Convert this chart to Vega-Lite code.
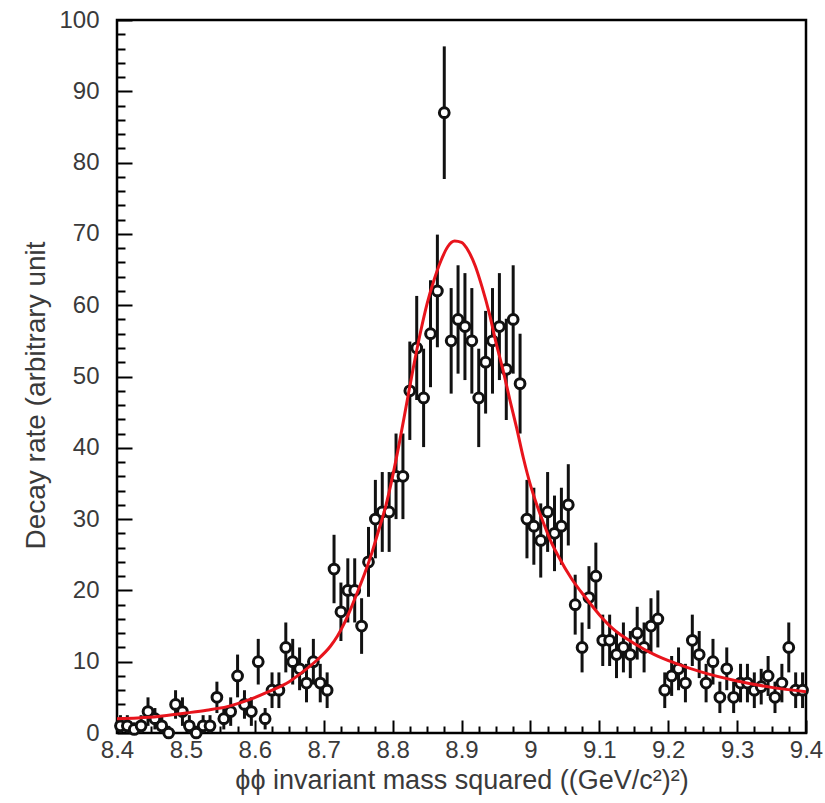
{
  "$schema": "https://vega.github.io/schema/vega-lite/v6.json",
  "width": 689,
  "height": 713,
  "autosize": {"type": "none"},
  "padding": {"left": 117, "top": 20, "right": 19, "bottom": 70},
  "background": "white",
  "config": {
    "view": {"stroke": "black", "strokeWidth": 2.5},
    "font": "Liberation Sans",
    "axis": {"grid": false, "domain": false, "labelFont": "Liberation Sans", "titleFont": "Liberation Sans", "labelColor": "#3a3a3a", "titleColor": "#3a3a3a", "tickColor": "black", "labelFontSize": 24, "titleFontSize": 27, "titleFontWeight": "normal"}
  },
  "datasets": {
    "pts": [
      {"x": 8.405, "y": 1, "lo": 0, "hi": 2.5},
      {"x": 8.415, "y": 1, "lo": 0, "hi": 2.5},
      {"x": 8.425, "y": 0.5, "lo": 0, "hi": 1.5},
      {"x": 8.435, "y": 1, "lo": 0, "hi": 2.5},
      {"x": 8.445, "y": 3, "lo": 1, "hi": 5},
      {"x": 8.455, "y": 2, "lo": 0.5, "hi": 3.5},
      {"x": 8.465, "y": 1, "lo": 0, "hi": 2.5},
      {"x": 8.475, "y": 0, "lo": 0, "hi": 1},
      {"x": 8.485, "y": 4, "lo": 2, "hi": 6},
      {"x": 8.495, "y": 3, "lo": 1, "hi": 5},
      {"x": 8.505, "y": 1, "lo": 0, "hi": 2.5},
      {"x": 8.515, "y": 0, "lo": 0, "hi": 1},
      {"x": 8.525, "y": 1, "lo": 0, "hi": 2.5},
      {"x": 8.535, "y": 1, "lo": 0, "hi": 2.5},
      {"x": 8.545, "y": 5, "lo": 2.8, "hi": 7.2},
      {"x": 8.555, "y": 2, "lo": 0.5, "hi": 3.5},
      {"x": 8.565, "y": 3, "lo": 1, "hi": 5},
      {"x": 8.575, "y": 8, "lo": 5, "hi": 11},
      {"x": 8.585, "y": 4, "lo": 2, "hi": 6},
      {"x": 8.595, "y": 3, "lo": 1, "hi": 5},
      {"x": 8.605, "y": 10, "lo": 6.8, "hi": 13.2},
      {"x": 8.615, "y": 2, "lo": 0.5, "hi": 3.5},
      {"x": 8.625, "y": 6, "lo": 3.5, "hi": 8.5},
      {"x": 8.635, "y": 6, "lo": 3.5, "hi": 8.5},
      {"x": 8.645, "y": 12, "lo": 8.5, "hi": 15.5},
      {"x": 8.655, "y": 10, "lo": 6.8, "hi": 13.2},
      {"x": 8.665, "y": 9, "lo": 6, "hi": 12},
      {"x": 8.675, "y": 7, "lo": 4.3, "hi": 9.7},
      {"x": 8.685, "y": 10, "lo": 6.8, "hi": 13.2},
      {"x": 8.695, "y": 7, "lo": 4.3, "hi": 9.7},
      {"x": 8.705, "y": 6, "lo": 3.5, "hi": 8.5},
      {"x": 8.715, "y": 23, "lo": 18.2, "hi": 27.8},
      {"x": 8.725, "y": 17, "lo": 12.9, "hi": 21.1},
      {"x": 8.735, "y": 20, "lo": 15.5, "hi": 24.5},
      {"x": 8.745, "y": 20, "lo": 15.5, "hi": 24.5},
      {"x": 8.755, "y": 15, "lo": 11.1, "hi": 18.9},
      {"x": 8.765, "y": 24, "lo": 19.1, "hi": 28.9},
      {"x": 8.775, "y": 30, "lo": 24.5, "hi": 35.5},
      {"x": 8.785, "y": 31, "lo": 25.4, "hi": 36.6},
      {"x": 8.795, "y": 31, "lo": 25.4, "hi": 36.6},
      {"x": 8.805, "y": 36, "lo": 30, "hi": 42},
      {"x": 8.815, "y": 36, "lo": 30, "hi": 42},
      {"x": 8.825, "y": 48, "lo": 41.1, "hi": 54.9},
      {"x": 8.835, "y": 54, "lo": 46.7, "hi": 61.3},
      {"x": 8.845, "y": 47, "lo": 40.1, "hi": 53.9},
      {"x": 8.855, "y": 56, "lo": 48.5, "hi": 63.5},
      {"x": 8.865, "y": 62, "lo": 54.1, "hi": 69.9},
      {"x": 8.875, "y": 87, "lo": 77.7, "hi": 96.3},
      {"x": 8.885, "y": 55, "lo": 47.6, "hi": 62.4},
      {"x": 8.895, "y": 58, "lo": 50.4, "hi": 65.6},
      {"x": 8.905, "y": 57, "lo": 49.5, "hi": 64.5},
      {"x": 8.915, "y": 55, "lo": 47.6, "hi": 62.4},
      {"x": 8.925, "y": 47, "lo": 40.1, "hi": 53.9},
      {"x": 8.935, "y": 52, "lo": 44.8, "hi": 59.2},
      {"x": 8.945, "y": 55, "lo": 47.6, "hi": 62.4},
      {"x": 8.955, "y": 57, "lo": 49.5, "hi": 64.5},
      {"x": 8.965, "y": 51, "lo": 43.9, "hi": 58.1},
      {"x": 8.975, "y": 58, "lo": 50.4, "hi": 65.6},
      {"x": 8.985, "y": 49, "lo": 42, "hi": 56},
      {"x": 8.995, "y": 30, "lo": 24.5, "hi": 35.5},
      {"x": 9.005, "y": 29, "lo": 23.6, "hi": 34.4},
      {"x": 9.015, "y": 27, "lo": 21.8, "hi": 32.2},
      {"x": 9.025, "y": 31, "lo": 25.4, "hi": 36.6},
      {"x": 9.035, "y": 28, "lo": 22.7, "hi": 33.3},
      {"x": 9.045, "y": 29, "lo": 23.6, "hi": 34.4},
      {"x": 9.055, "y": 32, "lo": 26.3, "hi": 37.7},
      {"x": 9.065, "y": 18, "lo": 13.8, "hi": 22.2},
      {"x": 9.075, "y": 12, "lo": 8.5, "hi": 15.5},
      {"x": 9.085, "y": 19, "lo": 14.6, "hi": 23.4},
      {"x": 9.095, "y": 22, "lo": 17.3, "hi": 26.7},
      {"x": 9.105, "y": 13, "lo": 9.4, "hi": 16.6},
      {"x": 9.115, "y": 13, "lo": 9.4, "hi": 16.6},
      {"x": 9.125, "y": 11, "lo": 7.7, "hi": 14.3},
      {"x": 9.135, "y": 12, "lo": 8.5, "hi": 15.5},
      {"x": 9.145, "y": 11, "lo": 7.7, "hi": 14.3},
      {"x": 9.155, "y": 14, "lo": 10.3, "hi": 17.7},
      {"x": 9.165, "y": 12, "lo": 8.5, "hi": 15.5},
      {"x": 9.175, "y": 15, "lo": 11.1, "hi": 18.9},
      {"x": 9.185, "y": 16, "lo": 12, "hi": 20},
      {"x": 9.195, "y": 6, "lo": 3.5, "hi": 8.5},
      {"x": 9.205, "y": 8, "lo": 5.2, "hi": 10.8},
      {"x": 9.215, "y": 9, "lo": 6, "hi": 12},
      {"x": 9.225, "y": 7, "lo": 4.3, "hi": 9.7},
      {"x": 9.235, "y": 13, "lo": 9.4, "hi": 16.6},
      {"x": 9.245, "y": 11, "lo": 7.7, "hi": 14.3},
      {"x": 9.255, "y": 7, "lo": 4.3, "hi": 9.7},
      {"x": 9.265, "y": 10, "lo": 6.8, "hi": 13.2},
      {"x": 9.275, "y": 5, "lo": 2.8, "hi": 7.2},
      {"x": 9.285, "y": 9, "lo": 6, "hi": 12},
      {"x": 9.295, "y": 5, "lo": 2.8, "hi": 7.2},
      {"x": 9.305, "y": 7, "lo": 4.3, "hi": 9.7},
      {"x": 9.315, "y": 7, "lo": 4.3, "hi": 9.7},
      {"x": 9.325, "y": 6, "lo": 3.5, "hi": 8.5},
      {"x": 9.335, "y": 6.5, "lo": 4, "hi": 9},
      {"x": 9.345, "y": 8, "lo": 5.2, "hi": 10.8},
      {"x": 9.355, "y": 5, "lo": 2.8, "hi": 7.2},
      {"x": 9.365, "y": 7, "lo": 4.3, "hi": 9.7},
      {"x": 9.375, "y": 12, "lo": 8.5, "hi": 15.5},
      {"x": 9.385, "y": 6, "lo": 3.5, "hi": 8.5},
      {"x": 9.395, "y": 6, "lo": 3.5, "hi": 8.5}
    ],
    "curve": [
      {"x": 8.40, "y": 2.0}, {"x": 8.43, "y": 2.1}, {"x": 8.46, "y": 2.3}, {"x": 8.50, "y": 2.8},
      {"x": 8.53, "y": 3.2}, {"x": 8.56, "y": 3.7}, {"x": 8.59, "y": 4.6}, {"x": 8.62, "y": 5.8},
      {"x": 8.65, "y": 7.2}, {"x": 8.67, "y": 8.6}, {"x": 8.69, "y": 10.2}, {"x": 8.71, "y": 12.2},
      {"x": 8.72, "y": 13.6}, {"x": 8.73, "y": 15.4}, {"x": 8.74, "y": 17.6}, {"x": 8.75, "y": 20.0},
      {"x": 8.76, "y": 22.5}, {"x": 8.77, "y": 25.3}, {"x": 8.78, "y": 28.5}, {"x": 8.79, "y": 31.8},
      {"x": 8.80, "y": 36.0}, {"x": 8.81, "y": 40.8}, {"x": 8.82, "y": 46.0}, {"x": 8.83, "y": 51.2},
      {"x": 8.84, "y": 56.0}, {"x": 8.85, "y": 60.2}, {"x": 8.86, "y": 63.5}, {"x": 8.87, "y": 66.2},
      {"x": 8.88, "y": 68.2}, {"x": 8.89, "y": 69.0}, {"x": 8.90, "y": 68.8}, {"x": 8.91, "y": 67.6},
      {"x": 8.92, "y": 65.5}, {"x": 8.93, "y": 62.5}, {"x": 8.94, "y": 59.0}, {"x": 8.95, "y": 54.8},
      {"x": 8.96, "y": 51.0}, {"x": 8.97, "y": 46.8}, {"x": 8.98, "y": 42.8}, {"x": 8.99, "y": 38.5},
      {"x": 9.00, "y": 34.8}, {"x": 9.01, "y": 31.8}, {"x": 9.02, "y": 29.2}, {"x": 9.03, "y": 26.8},
      {"x": 9.04, "y": 24.9}, {"x": 9.06, "y": 21.6}, {"x": 9.08, "y": 19.0}, {"x": 9.10, "y": 16.6},
      {"x": 9.12, "y": 14.6}, {"x": 9.15, "y": 12.6}, {"x": 9.18, "y": 11.0}, {"x": 9.21, "y": 9.8},
      {"x": 9.25, "y": 8.5}, {"x": 9.30, "y": 7.3}, {"x": 9.35, "y": 6.4}, {"x": 9.40, "y": 5.8}
    ]
  },
  "resolve": {"axis": {"x": "independent", "y": "independent"}},
  "layer": [
    {
      "data": {"name": "pts"},
      "mark": {"type": "rule", "color": "#111", "strokeWidth": 3},
      "encoding": {
        "x": {"field": "x", "type": "quantitative", "scale": {"domain": [8.4, 9.4], "nice": false, "zero": false},
          "axis": {"orient": "bottom", "values": [8.4, 8.5, 8.6, 8.7, 8.8, 8.9, 9.0, 9.1, 9.2, 9.3, 9.4], "tickSize": -13, "tickWidth": 2, "labelPadding": 18, "labelFlush": false, "labelOverlap": false,
            "title": "ϕϕ invariant mass squared ((GeV/c²)²)", "titleY": 34, "titleAnchor": "middle", "labelExpr": "format(datum.value, '.1~f')"}},
        "y": {"field": "lo", "type": "quantitative", "scale": {"domain": [0, 100], "nice": false},
          "axis": {"orient": "left", "values": [0, 10, 20, 30, 40, 50, 60, 70, 80, 90, 100], "tickSize": -15, "tickWidth": 2, "labelPadding": 33, "labelFlush": false, "labelOverlap": false,
            "title": "Decay rate (arbitrary unit", "titleFontSize": 28, "titleX": -67, "titleY": 375, "titleAnchor": "middle"}},
        "y2": {"field": "hi"}
      }
    },
    {
      "data": {"name": "pts"},
      "mark": {"type": "point", "shape": "circle", "filled": true, "fill": "white", "stroke": "#111", "strokeWidth": 3, "size": 95, "opacity": 1},
      "encoding": {
        "x": {"field": "x", "type": "quantitative",
          "axis": {"orient": "bottom", "values": [8.425, 8.45, 8.475, 8.525, 8.55, 8.575, 8.625, 8.65, 8.675, 8.725, 8.75, 8.775, 8.825, 8.85, 8.875, 8.925, 8.95, 8.975, 9.025, 9.05, 9.075, 9.125, 9.15, 9.175, 9.225, 9.25, 9.275, 9.325, 9.35, 9.375], "tickSize": -7, "tickWidth": 2, "labels": false, "title": null}},
        "y": {"field": "y", "type": "quantitative",
          "axis": {"orient": "left", "values": [2, 4, 6, 8, 12, 14, 16, 18, 22, 24, 26, 28, 32, 34, 36, 38, 42, 44, 46, 48, 52, 54, 56, 58, 62, 64, 66, 68, 72, 74, 76, 78, 82, 84, 86, 88, 92, 94, 96, 98], "tickSize": -8, "tickWidth": 2, "labels": false, "title": null}}
      }
    },
    {
      "data": {"name": "curve"},
      "mark": {"type": "line", "color": "#e8141c", "strokeWidth": 3, "interpolate": "monotone"},
      "encoding": {
        "x": {"field": "x", "type": "quantitative", "axis": null},
        "y": {"field": "y", "type": "quantitative", "axis": null}
      }
    }
  ]
}
